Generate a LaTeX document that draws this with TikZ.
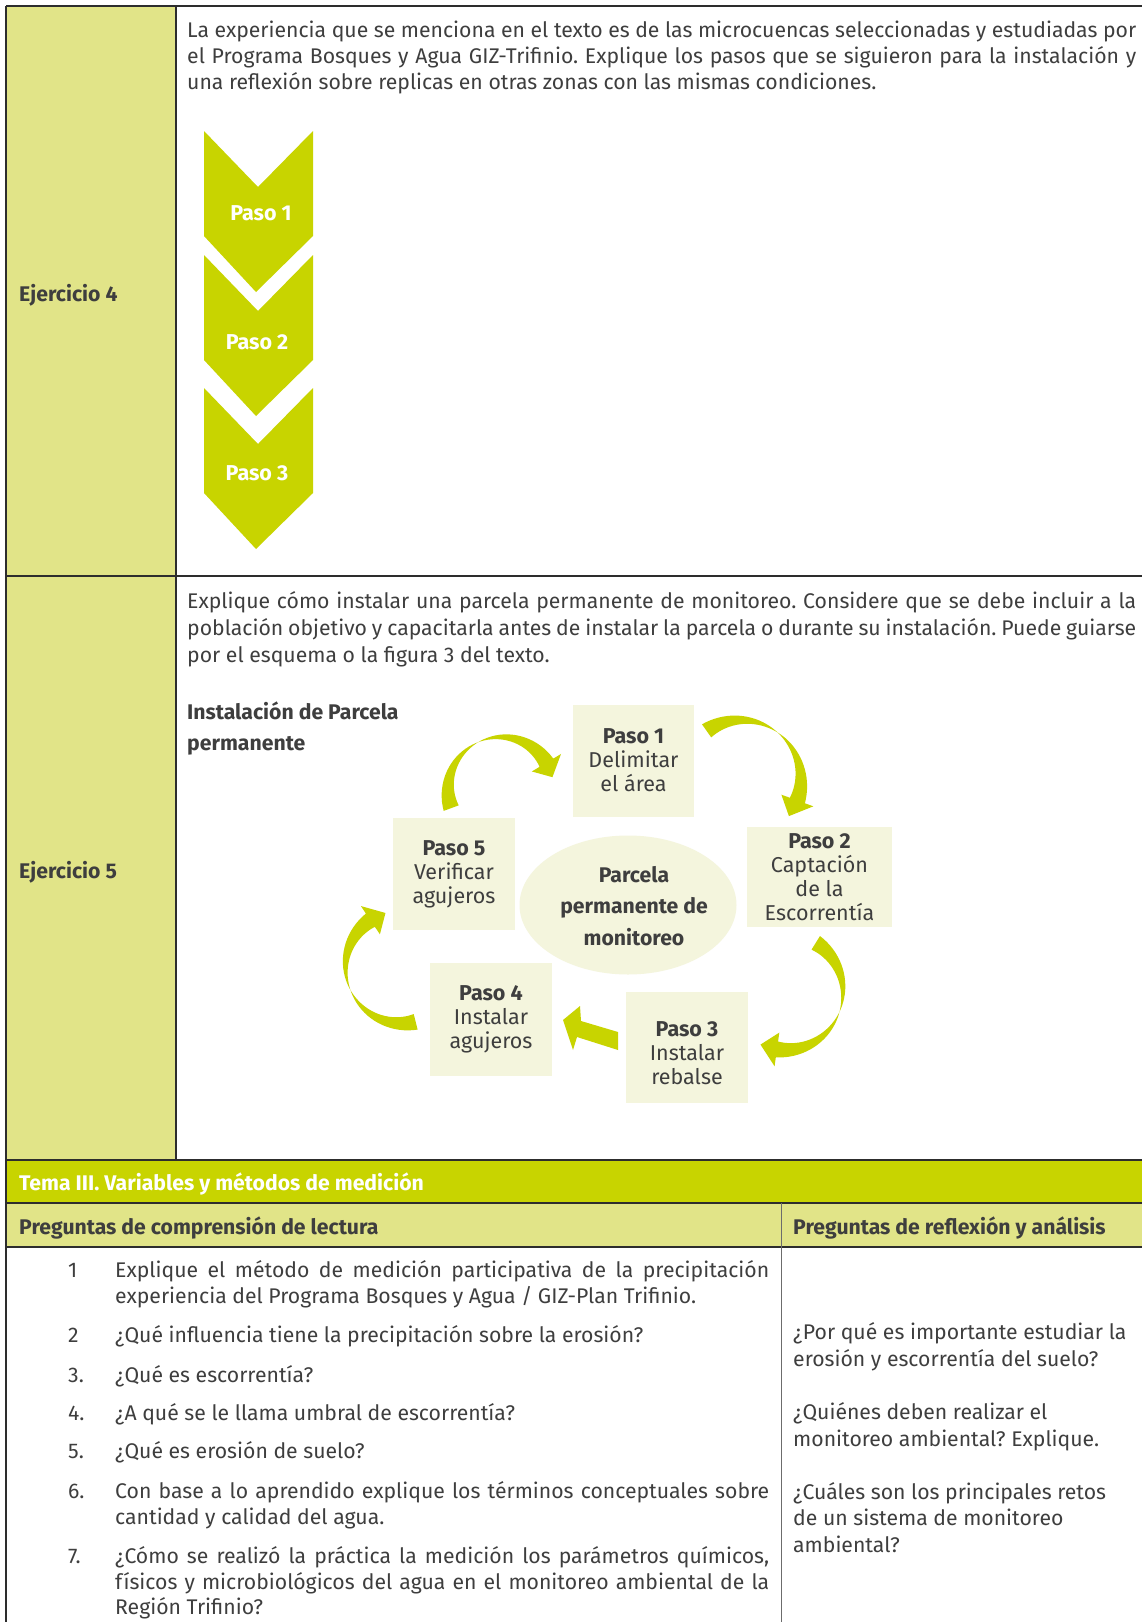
\documentclass[tikz,border=0pt]{standalone}
\usepackage{fontspec}
\setmainfont{Fira Sans}
\usetikzlibrary{positioning, shapes.geometric}
\definecolor{lima}{RGB}{200,212,0}
\definecolor{limaclara}{RGB}{225,228,136}
\definecolor{crema}{RGB}{244,245,221}
\definecolor{texto}{RGB}{62,62,62}
\definecolor{borde}{RGB}{45,45,45}
\frenchspacing
\newcommand{\jl}[2]{\makebox[#1pt][s]{#2}}
% cinta curva con punta: cx, cy, radio, angulo inicial, angulo final
\newcommand{\cinta}[5]{%
  \fill[lima] plot[domain=0:1,samples=40,variable=\t]
      ({#1+(#3+8*(1-2*\t))*cos(#4+\t*(#5-#4))},{#2+(#3+8*(1-2*\t))*sin(#4+\t*(#5-#4))})
    -- ({#1+(#3-17)*cos(#5)},{#2+(#3-17)*sin(#5)})
    -- ({#1+#3*cos(#5+17)},{#2+#3*sin(#5+17)})
    -- ({#1+(#3+17)*cos(#5)},{#2+(#3+17)*sin(#5)})
    -- plot[domain=0:1,samples=40,variable=\t]
      ({#1+(#3+8*(1-2*\t))*cos(#5-\t*(#5-#4))},{#2+(#3+8*(1-2*\t))*sin(#5-\t*(#5-#4))})
    -- cycle;}
\tikzset{
  txt/.style={anchor=west, inner sep=0pt, text=texto, font=\fontsize{21.2}{24}\selectfont, text height=20pt, text depth=3pt},
  lbl/.style={txt, font=\fontsize{21.2}{24}\selectfont\bfseries},
  chevlabel/.style={inner sep=0pt, text=white, font=\fontsize{21.5}{24}\selectfont\bfseries},
  stepbox/.style={rectangle, fill=crema, inner sep=0pt, align=center, text=texto, font=\fontsize{21.5}{24}\selectfont},
  centro/.style={ellipse, fill=crema, inner sep=0pt},
  centrotxt/.style={inner sep=0pt, align=center, text=texto, font=\fontsize{21.2}{31.5}\selectfont\bfseries},
  regla/.style={borde, line width=1.2pt}
}
\begin{document}
\begin{tikzpicture}[x=1pt, y=-1pt]
\useasboundingbox (0,0) rectangle (1142,1622);
\fill[white] (0,0) rectangle (1142,1622);

% fondo de la tabla
\fill[limaclara] (6,6) rectangle (176,1160);
\fill[lima] (6,1160) rectangle (1142,1203);
\fill[limaclara] (6,1203) rectangle (1142,1247);
\draw[regla] (6,6) -- (1142,6);
\draw[regla] (6,6) -- (6,1622);
\draw[regla] (176,6) -- (176,1160);
\draw[regla] (6,576) -- (1142,576);
\draw[regla] (6,1160) -- (1142,1160);
\draw[regla] (6,1203) -- (1142,1203);
\draw[regla] (6,1247) -- (1142,1247);
\draw[borde!70, line width=1pt] (781,1203) -- (781,1622);

% Ejercicio 4
\node[lbl] (ej4) at (19,293) {Ejercicio 4};
\node[txt] (e4a) at (187,29) {\jl{949}{La experiencia que se menciona en el texto es de las microcuencas seleccionadas y estudiadas por}};
\node[txt] (e4b) at (187,55) {\jl{949}{el Programa Bosques y Agua GIZ-Trifinio. Explique los pasos que se siguieron para la instalación y}};
\node[txt] (e4c) at (187,81) {una reflexión sobre replicas en otras zonas con las mismas condiciones.};

\foreach \y/\lx/\ly/\n in {131/261/213/1, 255/257/342/2, 388/257/473/3}{
  \fill[lima] (204,\y) -- (258,\y+56) -- (313,\y) -- (313,\y+105) -- (256,\y+161) -- (204,\y+105) -- cycle;
  \node[chevlabel] (paso\n) at (\lx,\ly) {Paso \n};
}

% Ejercicio 5
\node[lbl] (ej5) at (19,870) {Ejercicio 5};
\node[txt] (e5a) at (187,600) {\jl{949}{Explique cómo instalar una parcela permanente de monitoreo. Considere que se debe incluir a la}};
\node[txt] (e5b) at (187,627) {\jl{949}{población objetivo y capacitarla antes de instalar la parcela o durante su instalación. Puede guiarse}};
\node[txt] (e5c) at (187,654) {por el esquema o la figura 3 del texto.};
\node[lbl] (tit1) at (187,711) {Instalación de Parcela};
\node[lbl] (tit2) at (187,742) {permanente};

\node[centro, minimum width=217pt, minimum height=139pt] (parcela) at (628,905) {};
\node[centrotxt] (parcelatxt) at (634,906) {Parcela\\permanente de\\monitoreo};
\node[stepbox, minimum width=121pt, minimum height=112pt] (p1) at (633.5,760.5) {\textbf{Paso 1}\\Delimitar\\el área};
\node[stepbox, minimum width=145pt, minimum height=100pt] (p2) at (819.5,877) {\textbf{Paso 2}\\Captación\\de la\\Escorrentía};
\node[stepbox, minimum width=122pt, minimum height=111pt] (p3) at (687,1047.5) {\rule{0pt}{26pt}\textbf{Paso 3}\\Instalar\\rebalse};
\node[stepbox, minimum width=122pt, minimum height=113pt] (p4) at (491,1019.5) {\textbf{Paso 4}\\Instalar\\agujeros};
\node[stepbox, minimum width=122pt, minimum height=112pt] (p5) at (454,874) {\textbf{Paso 5}\\Verificar\\agujeros};

\cinta{501}{790}{53}{160}{329}
\cinta{741}{780}{60}{235}{380}
\cinta{785}{992}{58}{-58}{98}
\cinta{402}{967}{56.5}{76}{236}
\fill[lima] (618,1032) -- (581,1021) -- (580,1006) -- (563,1020) -- (573,1050) -- (577,1037) -- (618,1050) -- cycle;

% Tema III
\node[lbl, text=white] (tema) at (19,1182) {Tema III. Variables y métodos de medición};
\node[lbl] (h1) at (19,1226) {Preguntas de comprensión de lectura};
\node[lbl] (h2) at (793,1226) {Preguntas de reflexión y análisis};

\foreach \n/\y in {1/1269, 2/1334, 3./1374, 4./1412, 5./1450, 6./1490, 7./1555}
  \node[txt] (n\n) at (68,\y) {\n};
\node[txt] (q1a) at (115,1269) {\jl{654}{Explique el método de medición participativa de la precipitación}};
\node[txt] (q1b) at (115,1295) {experiencia del Programa Bosques y Agua / GIZ-Plan Trifinio.};
\node[txt] (q2) at (115,1334) {¿Qué influencia tiene la precipitación sobre la erosión?};
\node[txt] (q3) at (115,1374) {¿Qué es escorrentía?};
\node[txt] (q4) at (115,1412) {¿A qué se le llama umbral de escorrentía?};
\node[txt] (q5) at (115,1450) {¿Qué es erosión de suelo?};
\node[txt] (q6a) at (115,1490) {\jl{654}{Con base a lo aprendido explique los términos conceptuales sobre}};
\node[txt] (q6b) at (115,1516) {cantidad y calidad del agua.};
\node[txt] (q7a) at (115,1555) {\jl{654}{¿Cómo se realizó la práctica la medición los parámetros químicos,}};
\node[txt] (q7b) at (115,1581) {\jl{654}{físicos y microbiológicos del agua en el monitoreo ambiental de la}};
\node[txt] (q7c) at (115,1606) {Región Trifinio?};

\node[txt] (r1a) at (793,1331) {¿Por qué es importante estudiar la};
\node[txt] (r1b) at (793,1358) {erosión y escorrentía del suelo?};
\node[txt] (r2a) at (793,1411) {¿Quiénes deben realizar el};
\node[txt] (r2b) at (793,1438) {monitoreo ambiental? Explique.};
\node[txt] (r3a) at (793,1491) {¿Cuáles son los principales retos};
\node[txt] (r3b) at (793,1517) {de un sistema de monitoreo};
\node[txt] (r3c) at (793,1544) {ambiental?};
\end{tikzpicture}
\end{document}
